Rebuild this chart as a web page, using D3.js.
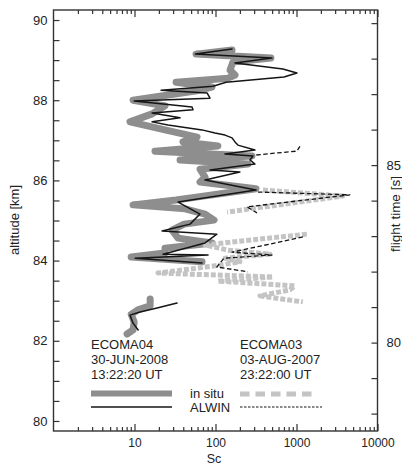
<!DOCTYPE html>
<html>
<head>
<meta charset="utf-8">
<script src="https://cdn.jsdelivr.net/npm/d3@7"></script>
<style>
  body { margin: 0; background: #fff; }
  text { font-family: "Liberation Sans", Arial, sans-serif; fill: #222; }
</style>
</head>
<body>
<svg id="chart" width="402" height="464"></svg>
<script>
  // [Sc, altitude km]; null marks a gap in the profile
  var ecoma04InSitu = [
    [160, 89.25], [57.5, 89.15], [483, 89.05], [164, 88.95], [151, 88.75], [174, 88.63],
    [143, 88.55], [32.6, 88.45], [90.6, 88.33], [55.9, 88.23], [9.6, 88.00], [23.8, 87.86],
    [16.5, 87.66], [8.8, 87.46], [23.8, 87.26], [59.2, 87.08], [39.7, 86.96], [107, 86.86],
    [17.9, 86.73], [282, 86.61], [36.5, 86.51], [251, 86.41], [64.4, 86.28], [74.3, 86.08],
    [64.4, 85.96], [316, 85.79], [60.8, 85.59], [32.6, 85.51], [9.6, 85.39], [42.1, 85.29],
    [74.3, 85.16], [95.9, 85.01], [40.9, 84.91], [29.1, 84.76], [34.5, 84.56], [90.6, 84.44],
    [23.8, 84.31], [23.8, 84.19], [9.1, 84.09], [68.2, 83.97],
    null,
    [15.6, 83.04], [15.6, 82.87], [11, 82.77], [9.1, 82.66], [9.9, 82.47], [9.6, 82.27], [8.1, 82.17]
  ];

  var ecoma04Alwin = [
    [160, 89.28], [56.5, 89.15], [497, 89.05], [174, 88.93], [679, 88.78], [1012, 88.68],
    [700, 88.58], [135, 88.45], [93.2, 88.35], [21.3, 88.25], [78.6, 88.18], [85.6, 88.05],
    [9.9, 87.98], [51.3, 87.83], [52.8, 87.76], [16.5, 87.68], [36.5, 87.56], [16.5, 87.46],
    [25.9, 87.38], [68.2, 87.26], [98.6, 87.18], [131, 87.13], [160, 87.06], [174, 86.96],
    [189, 86.88], [307, 86.76], [131, 86.66], [290, 86.61], [266, 86.51], [307, 86.41],
    [85.6, 86.26], [200, 86.21], [74.3, 86.01], [316, 85.76], [34.5, 85.46], [64.4, 85.16],
    [48.5, 84.91], [21.9, 84.74], [104, 84.66], [74.3, 84.44], [22.5, 84.16], [80.9, 84.14],
    [10.2, 84.06], [68.2, 83.94],
    null,
    [33.5, 82.94], [19.0, 82.82], [11.7, 82.72], [8.8, 82.64], [9.6, 82.44], [11.1, 82.27]
  ];

  var ecoma03InSitu = [
    [385, 85.76], [3733, 85.61], [139, 85.21],
    null,
    [1343, 84.66], [74.3, 84.39], [143, 84.26], [470, 84.16], [131, 84.06], [200, 83.97],
    [98.6, 83.87], [19.5, 83.69], [512, 83.59], [107, 83.49], [955, 83.37], [829, 83.27],
    [354, 83.12], [1199, 82.97]
  ];

  var ecoma03Alwin = [
    [1102, 86.85], [1012, 86.73], [542, 86.68], [307, 86.63],
    null,
    [334, 85.71], [4552, 85.64], [245, 85.34], [325, 85.19],
    null,
    [1199, 84.59], [160, 84.21], [497, 84.14], [127, 84.06], [104, 83.84], [252, 83.72]
  ];

  var scTicks = [10, 100, 1000, 10000];
  var altitudeLabels = [80, 82, 84, 86, 88, 90];
  var timeLabels = [80, 85];
  var flights = [
    { name: 'ECOMA04', date: '30-JUN-2008', time: '13:22:20 UT' },
    { name: 'ECOMA03', date: '03-AUG-2007', time: '23:22:00 UT' }
  ];

  var svg = d3.select('#chart');
  var box = { left: 53.5, right: 377.5, top: 10, bottom: 431 };
  var axisColor = '#333';
  var darkGray = '#8e8e8e', lightGray = '#c4c4c4';

  var x = d3.scaleLog().domain([1, 10000]).range([box.left, box.right]);
  var y = d3.scaleLinear().domain([79.75, 90.25]).range([box.bottom, box.top]);
  var t = d3.scaleLinear().domain([77.51, 89.37]).range([box.bottom, box.top]);

  svg.append('defs').append('clipPath').attr('id', 'plotClip')
    .append('rect')
    .attr('x', box.left).attr('y', box.top)
    .attr('width', box.right - box.left).attr('height', box.bottom - box.top);

  var line = d3.line()
    .defined(function(d) { return d !== null; })
    .x(function(d) { return x(d[0]); })
    .y(function(d) { return y(d[1]); });

  var plot = svg.append('g').attr('clip-path', 'url(#plotClip)');

  var series = [
    { data: ecoma04InSitu, color: darkGray, width: 7, dash: null, cap: 'round' },
    { data: ecoma03InSitu, color: lightGray, width: 5, dash: '5,2', cap: 'butt' },
    { data: ecoma04Alwin, color: '#151515', width: 1.5, dash: null, cap: 'round' },
    { data: ecoma03Alwin, color: '#151515', width: 1.3, dash: '4.5,2.5', cap: 'butt' }
  ];

  series.forEach(function(s) {
    plot.append('path')
      .datum(s.data)
      .attr('d', line)
      .attr('fill', 'none')
      .attr('stroke', s.color)
      .attr('stroke-width', s.width)
      .attr('stroke-linejoin', 'round')
      .attr('stroke-linecap', s.cap)
      .attr('stroke-dasharray', s.dash);
  });

  // axes, all ticks pointing inward
  var minorSc = [];
  [1, 10, 100, 1000].forEach(function(dec) {
    for(var k = 2; k <= 9; k++) { minorSc.push(dec * k); }
  });

  function tidy(g, size) {
    g.select('.domain').remove();
    g.selectAll('line').attr('stroke', axisColor).attr('stroke-width', 1.2);
    g.selectAll('text').attr('font-size', size).attr('fill', '#222')
      .style('font-family', '"Liberation Sans", Arial, sans-serif');
  }

  svg.append('g').attr('transform', 'translate(0,' + box.bottom + ')')
    .call(d3.axisBottom(x).tickValues(scTicks).tickFormat(d3.format('d')).tickSize(-7).tickPadding(7.5))
    .call(tidy, '12px');
  svg.append('g').attr('transform', 'translate(0,' + box.bottom + ')')
    .call(d3.axisBottom(x).tickValues(minorSc).tickFormat('').tickSize(-4))
    .call(tidy, '12px');
  svg.append('g').attr('transform', 'translate(0,' + box.top + ')')
    .call(d3.axisTop(x).tickValues(scTicks).tickFormat('').tickSize(-7))
    .call(tidy, '12px');
  svg.append('g').attr('transform', 'translate(0,' + box.top + ')')
    .call(d3.axisTop(x).tickValues(minorSc).tickFormat('').tickSize(-4))
    .call(tidy, '12px');

  svg.append('g').attr('transform', 'translate(' + box.left + ',0)')
    .call(d3.axisLeft(y).tickValues(d3.range(80, 90.01, 0.5))
      .tickFormat(function(d) { return altitudeLabels.indexOf(d) >= 0 ? d : ''; })
      .tickSize(-6).tickPadding(6))
    .call(tidy, '13px');

  svg.append('g').attr('transform', 'translate(' + box.right + ',0)')
    .call(d3.axisRight(t).tickValues(d3.range(78, 90))
      .tickFormat(function(d) { return timeLabels.indexOf(d) >= 0 ? d : ''; })
      .tickSize(-6).tickPadding(9))
    .call(tidy, '13px');

  svg.append('rect')
    .attr('x', box.left).attr('y', box.top)
    .attr('width', box.right - box.left).attr('height', box.bottom - box.top)
    .attr('fill', 'none').attr('stroke', axisColor).attr('stroke-width', 1.4);

  // axis titles
  svg.append('text').attr('x', 214).attr('y', 462.5)
    .attr('text-anchor', 'middle').attr('font-size', '12.5px').text('Sc');
  svg.append('text').attr('transform', 'translate(19,220) rotate(-90)')
    .attr('text-anchor', 'middle').attr('font-size', '13px').text('altitude [km]');
  svg.append('text').attr('transform', 'translate(400,214) rotate(-90)')
    .attr('text-anchor', 'middle').attr('font-size', '13.5px').text('flight time [s]');

  // legend
  var legend = svg.append('g');
  flights.forEach(function(f, i) {
    var lx = i === 0 ? 91 : 240;
    [f.name, f.date, f.time].forEach(function(s, j) {
      legend.append('text').attr('x', lx).attr('y', 349 + j * 15)
        .attr('font-size', '13px').text(s);
    });
  });

  legend.append('line').attr('x1', 91).attr('x2', 172).attr('y1', 393.5).attr('y2', 393.5)
    .attr('stroke', darkGray).attr('stroke-width', 6);
  legend.append('line').attr('x1', 91).attr('x2', 172).attr('y1', 407).attr('y2', 407)
    .attr('stroke', '#151515').attr('stroke-width', 1.5);
  legend.append('line').attr('x1', 240).attr('x2', 317).attr('y1', 394).attr('y2', 394)
    .attr('stroke', lightGray).attr('stroke-width', 5).attr('stroke-dasharray', '9.5,6');
  legend.append('line').attr('x1', 240).attr('x2', 322).attr('y1', 407).attr('y2', 407)
    .attr('stroke', '#151515').attr('stroke-width', 1.1).attr('stroke-dasharray', '2.5,1.5');

  legend.append('text').attr('x', 190).attr('y', 397.5).attr('font-size', '13px').text('in situ');
  legend.append('text').attr('x', 190).attr('y', 411.5).attr('font-size', '13px').text('ALWIN');
</script>
</body>
</html>
